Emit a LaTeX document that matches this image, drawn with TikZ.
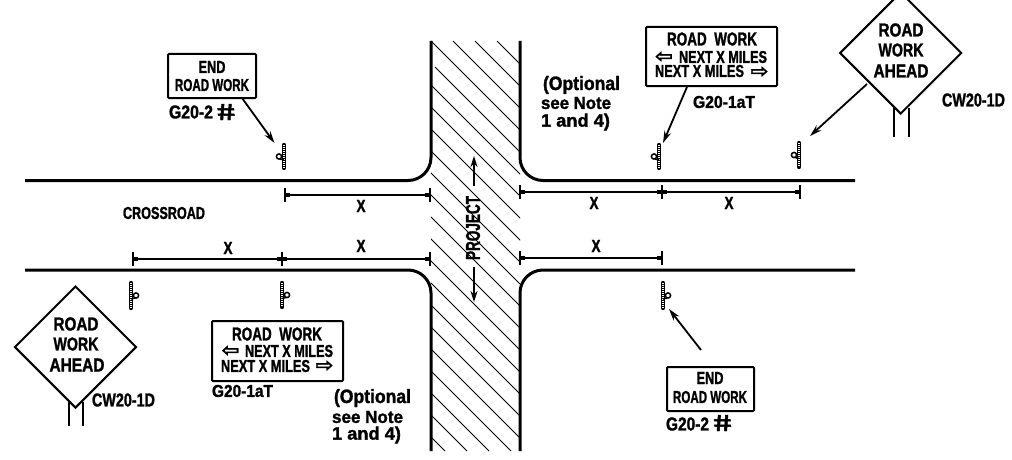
\documentclass[tikz,border=0pt]{standalone}
\usepackage{fontspec}
\usepackage{graphicx}
\setmainfont{Liberation Sans}[BoldFeatures={FakeBold=1.6}]
\newfontfamily\arrowfont{DejaVu Sans}[BoldFeatures={FakeBold=1}]
\usetikzlibrary{arrows.meta,shapes.geometric,calc}
\newcommand\fit[3]{\resizebox{#1pt}{#2pt}{\bfseries #3}}
\tikzset{
  road/.style={line width=3pt,line cap=butt},
  dimline/.style={line width=2pt},
  tickmark/.style={line width=2.6pt},
  hatchline/.style={line width=1pt},
  signbox/.style={draw,line width=2pt,rounded corners=1pt,inner sep=0pt},
  signdiamond/.style={draw,diamond,line width=2pt,inner sep=0pt,aspect=1,minimum width=122pt,minimum height=122pt},
  leader/.style={line width=1.8pt,-{Stealth[length=12pt,width=7pt]}},
  standpost/.style={line width=2pt},
  lbl/.style={inner sep=0pt,outer sep=0pt},
  hashlbl/.style={inner sep=0pt,outer sep=0pt,transform shape,xslant=-0.22},
  postbar/.style={line width=4.4pt,line cap=round},
  postdots/.style={line width=1.6pt,white,dash pattern=on 1pt off 1pt},
}
% name, x, y top, y bottom, side (-1 left / 1 right)
\newcommand\roadpost[5]{%
  \coordinate (#1) at (#2,{(#3+#4)/2});
  \draw[postbar] (#2,#3) -- (#2,#4);
  \draw[postdots] (#2,#3) -- (#2,#4);
  \draw[line width=1.5pt] ({#2+#5*5},{(#3+#4)/2}) circle (2.6pt);
  \draw[line width=1.5pt] (#2,{(#3+#4)/2+3.5}) -- ({#2+#5*4},{(#3+#4)/2+2.5});
}
% name, x, y
\newcommand\dimtick[3]{%
  \coordinate (#1) at (#2,#3);
  \draw[tickmark] (#2,#3-7) -- (#2,#3+7);
}
\newcommand\dimspan[4]{% from to
  \draw[dimline] (#1) -- (#2);
  \draw[line width=4pt] ($(#1)+(1,0)$) -- ($(#1)+(5,0)$);
  \draw[line width=4pt] ($(#2)+(-5,0)$) -- ($(#2)+(-1,0)$);
}
\begin{document}
\begin{tikzpicture}[x=1pt,y=-1pt]
\useasboundingbox (0,0) rectangle (1012,460);
% hatching
\begin{scope}
\clip (431,41) rectangle (520,451);
\foreach \c in {456,434,412,390,346,324,302,280,258,236,214,192,170,148,126,104,82,60,38,16,-6}
  \draw[hatchline] (\c+41,41) -- (\c+451,451);
\draw[hatchline] (435,67) -- (520,152);
\end{scope}
% roads
\draw[road] (25,180.5) -- (408,180.5) arc[start angle=90,end angle=0,radius=23] -- (431,41);
\draw[road] (855,180.5) -- (543,180.5) arc[start angle=90,end angle=180,radius=23] -- (520,41);
\draw[road] (25,270) -- (408,270) arc[start angle=-90,end angle=0,radius=23] -- (431,451);
\draw[road] (855,270) -- (543,270) arc[start angle=-90,end angle=-180,radius=23] -- (520,451);
% dimensions
\dimtick{a1}{285}{195}\dimtick{a2}{430}{195}
\dimspan{a1}{a2}{}{}
\dimtick{b1}{133}{259}\dimtick{b2}{282}{259}\dimtick{b3}{430}{259}
\dimspan{b1}{b2}{}{}\dimspan{b2}{b3}{}{}
\dimtick{c1}{520}{192}\dimtick{c2}{662}{192}\dimtick{c3}{800}{192}
\dimspan{c1}{c2}{}{}\dimspan{c2}{c3}{}{}
\dimtick{d1}{520}{258}\dimtick{d2}{662}{258}
\dimspan{d1}{d2}{}{}
\node[lbl] (xa) at (361,206) {\fit{9}{12}{X}};
\node[lbl] (xb) at (228,248) {\fit{9}{12}{X}};
\node[lbl] (xc) at (361,246) {\fit{9}{12}{X}};
\node[lbl] (xd) at (594,203) {\fit{9}{12}{X}};
\node[lbl] (xe) at (729,203) {\fit{9}{12}{X}};
\node[lbl] (xf) at (596,246) {\fit{9}{12}{X}};
\node[lbl] (crossroad) at (164,213) {\fit{82}{12}{CROSSROAD}};
% project
\node[lbl,rotate=90] (project) at (473,228) {\fit{64}{14}{PROJECT}};
\coordinate (pu1) at (474,186);\coordinate (pu2) at (474,156);
\coordinate (pd1) at (474,267);\coordinate (pd2) at (474,302);
\draw[line width=2pt,-{Stealth[length=11pt,width=7pt]}] (pu1) -- (pu2);
\draw[line width=2pt,-{Stealth[length=11pt,width=7pt]}] (pd1) -- (pd2);
% posts
\roadpost{p1}{284}{145}{168}{-1}
\roadpost{p2}{659}{145}{168}{-1}
\roadpost{p3}{799}{143}{167}{-1}
\roadpost{p4}{131}{283}{308}{1}
\roadpost{p5}{282}{283}{307}{1}
\roadpost{p6}{663}{283}{308}{1}
% END sign top
\node[signbox,minimum width=88pt,minimum height=44pt] (end1) at (212,76) {};
\node[lbl] (end1a) at (212,67) {\fit{27}{12}{END}};
\node[lbl] (end1b) at (212,85) {\fit{74}{12}{ROAD WORK}};
\node[lbl,anchor=west] (end1c) at (169,112) {\fit{44}{13}{G20-2}};
\node[hashlbl] (end1d) at (226,112) {\fit{18}{16}{\#}};
\coordinate (l1a) at (242,98);\coordinate (l1b) at (274.5,143);
\draw[leader] (l1a) -- (l1b);
% END sign bottom
\node[signbox,minimum width=87pt,minimum height=44pt] (end2) at (710.5,389) {};
\node[lbl] (end2a) at (710,378) {\fit{27}{12}{END}};
\node[lbl] (end2b) at (710,397) {\fit{74}{12}{ROAD WORK}};
\node[lbl,anchor=west] (end2c) at (666,424) {\fit{43}{13}{G20-2}};
\node[hashlbl] (end2d) at (722.5,423) {\fit{18}{16}{\#}};
\coordinate (l2a) at (701,350);\coordinate (l2b) at (669,309);
\draw[leader] (l2a) -- (l2b);
% top right work sign
\node[signbox,minimum width=131pt,minimum height=59pt] (wk1) at (711.5,56.5) {};
\node[lbl] (wk1a) at (712,39) {\fit{90}{13}{ROAD\ \ WORK}};
\node[lbl] (wk1b) at (664,57) {\arrowfont\fit{18}{11}{⇦}};
\node[lbl] (wk1c) at (723,57) {\fit{88}{12}{NEXT X MILES}};
\node[lbl] (wk1d) at (699.5,71) {\fit{89}{12}{NEXT X MILES}};
\node[lbl] (wk1e) at (759.5,72) {\arrowfont\fit{18}{11}{⇨}};
\node[lbl] (wk1f) at (724,102) {\fit{62}{12}{G20-1aT}};
\coordinate (l3a) at (687,87);\coordinate (l3b) at (663,143);
\draw[leader] (l3a) -- (l3b);
% bottom left work sign
\node[signbox,minimum width=131pt,minimum height=60pt] (wk2) at (277.5,351) {};
\node[lbl] (wk2a) at (277,334) {\fit{90}{13}{ROAD\ \ WORK}};
\node[lbl] (wk2b) at (230.5,351) {\arrowfont\fit{18}{11}{⇦}};
\node[lbl] (wk2c) at (289,351) {\fit{88}{12}{NEXT X MILES}};
\node[lbl] (wk2d) at (265.5,366) {\fit{89}{12}{NEXT X MILES}};
\node[lbl] (wk2e) at (324.5,366) {\arrowfont\fit{18}{11}{⇨}};
\node[lbl] (wk2f) at (242.5,391) {\fit{61}{12}{G20-1aT}};
% optional notes
\node[lbl,anchor=west] (o1a) at (543,85) {\fit{77}{14}{(Optional}};
\node[lbl,anchor=west] (o1b) at (541,103) {\fit{70}{12}{see Note}};
\node[lbl,anchor=west] (o1c) at (541,122) {\fit{69}{13}{1 and 4)}};
\node[lbl,anchor=west] (o2a) at (334,398) {\fit{77}{14}{(Optional}};
\node[lbl,anchor=west] (o2b) at (332,417) {\fit{71}{12}{see Note}};
\node[lbl,anchor=west] (o2c) at (332,435) {\fit{69}{13}{1 and 4)}};
% diamonds
\draw[standpost] (68.5,402) -- (68.5,426) (82.5,402) -- (82.5,426);
\node[signdiamond,fill=white] (d1s) at (75.5,347) {};
\node[lbl] (d1a) at (76,324) {\fit{45}{13}{ROAD}};
\node[lbl] (d1b) at (76,344) {\fit{45}{13}{WORK}};
\node[lbl] (d1c) at (77,365) {\fit{55}{13}{AHEAD}};
\node[lbl,anchor=west] (d1d) at (92,400) {\fit{63}{13}{CW20-1D}};
\draw[standpost] (894,108) -- (894,137) (909,108) -- (909,137);
\node[signdiamond,fill=white] (d2s) at (900.7,53) {};
\node[lbl] (d2a) at (901,30) {\fit{45}{13}{ROAD}};
\node[lbl] (d2b) at (901,50) {\fit{45}{13}{WORK}};
\node[lbl] (d2c) at (901,71) {\fit{55}{13}{AHEAD}};
\node[lbl,anchor=west] (d2d) at (942,100) {\fit{63}{13}{CW20-1D}};
\coordinate (l4a) at (867,84);\coordinate (l4b) at (810,136);
\draw[leader] (l4a) -- (l4b);
\end{tikzpicture}
\end{document}
